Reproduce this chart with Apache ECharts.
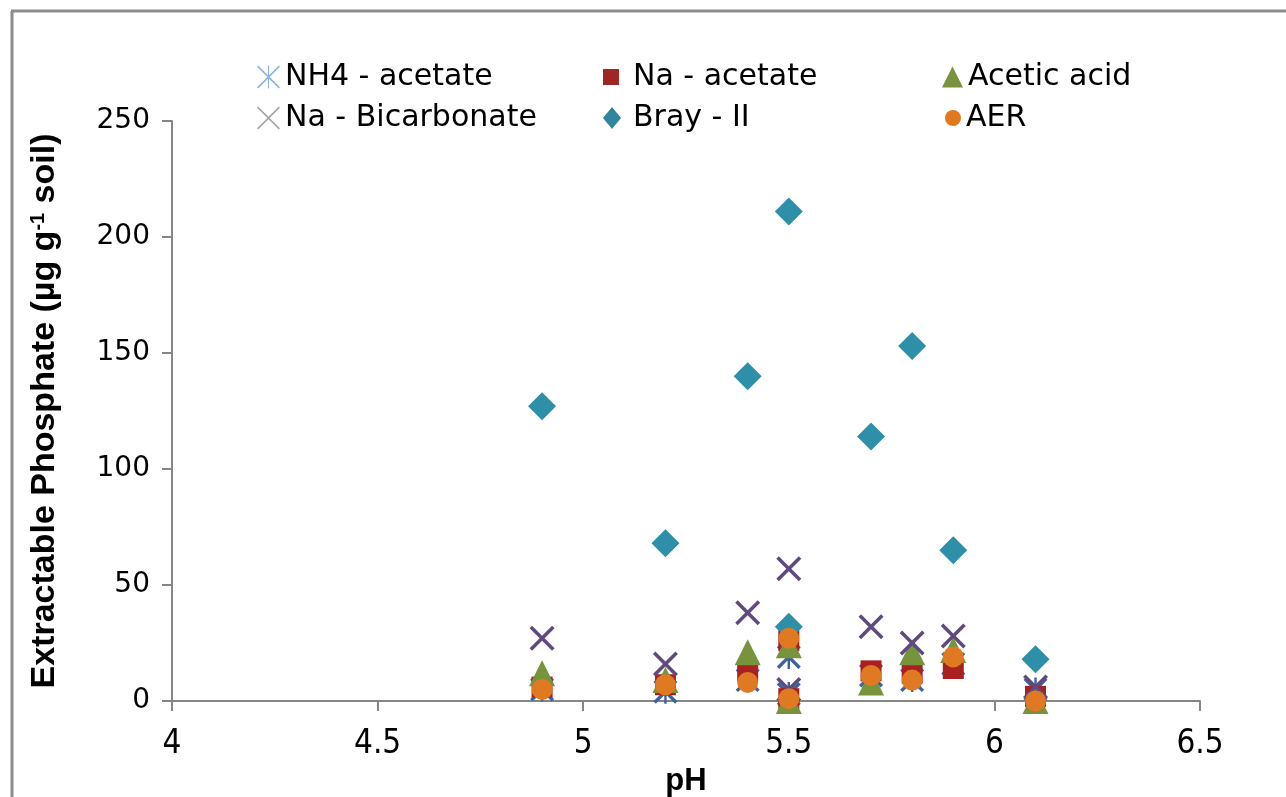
<!DOCTYPE html>
<html>
<head>
<meta charset="utf-8">
<script src="https://cdn.jsdelivr.net/npm/echarts@6/dist/echarts.min.js"></script>
<style>
html, body { margin: 0; padding: 0; background: #fff; }
#chart { width: 1286px; height: 797px; }
</style>
</head>
<body>
<div id="chart"></div>
<script>
// pH of each soil sample (two samples share pH 5.5)
var phValues = [4.9, 5.2, 5.4, 5.5, 5.5, 5.7, 5.8, 5.9, 6.1];

// extractable phosphate, µg g-1 soil, one array per extractant
var nh4Acetate   = [5, 4, 9, 19, 3, 11, 9, 16, 5];
var naAcetate    = [6, 7, 13, 26, 1, 13, 12, 14, 2];
var aceticAcid   = [12, 9, 21, 24, 0, 8, 21, 22, 0];
var naBicarb     = [27, 16, 38, 57, 5, 32, 25, 28, 6];
var bray2        = [127, 68, 140, 211, 32, 114, 153, 65, 18];
var aer          = [5, 7, 8, 27, 1, 11, 9, 19, 0];

var seriesNames = ['NH4 - acetate', 'Na - acetate', 'Acetic acid', 'Na - Bicarbonate', 'Bray - II', 'AER'];
var yTicks = [0, 50, 100, 150, 200, 250];
var xTicks = [4, 4.5, 5, 5.5, 6, 6.5];

// marker shapes (filled outlines so they look like stroked glyphs)
var crossPath = 'path://M0,2L2,0L10,8L18,0L20,2L12,10L20,18L18,20L10,12L2,20L0,18L8,10Z';
var starPath = 'path://M0,2L2,0L10,8L18,0L20,2L12,10L20,18L18,20L10,12L2,20L0,18L8,10Z M9,0L11,0L11,20L9,20Z';
var thinCross = 'path://M0,1L1,0L10,9L19,0L20,1L11,10L20,19L19,20L10,11L1,20L0,19L9,10Z';
var thinStar = 'path://M0,1L1,0L10,9L19,0L20,1L11,10L20,19L19,20L10,11L1,20L0,19L9,10Z M9.5,0L10.5,0L10.5,20L9.5,20Z';

function pairs(ys) {
  return phValues.map(function (x, i) { return [x, ys[i]]; });
}

var chart = echarts.init(document.getElementById('chart'));

function legendAt(name, left, top, w, h, icon, color, pad) {
  return {
    data: [{ name: name, icon: icon, itemStyle: { color: color, opacity: 1 } }],
    left: left, top: top,
    itemWidth: w, itemHeight: h,
    selectedMode: false,
    textStyle: { fontFamily: 'DejaVu Sans', fontSize: 30, color: '#000', lineHeight: 32, padding: [0, 0, 0, pad] }
  };
}

var option = {
  backgroundColor: '#fff',
  animation: false,
  graphic: [
    { type: 'line', shape: { x1: 12, y1: 11, x2: 12, y2: 797 }, style: { stroke: '#8c8c8c', lineWidth: 3 } },
    { type: 'line', shape: { x1: 11, y1: 11, x2: 1286, y2: 11 }, style: { stroke: '#8c8c8c', lineWidth: 3 } }
  ],
  legend: [
    legendAt(seriesNames[0], 252, 56, 23, 25, thinStar, '#8eb4e3', 0),
    legendAt(seriesNames[1], 598, 56, 16, 16, 'rect', '#a02525', 9),
    legendAt(seriesNames[2], 937, 56, 21, 21, 'triangle', '#77933c', 0),
    legendAt(seriesNames[3], 252, 97, 23, 25, thinCross, '#a6a6a6', 0),
    legendAt(seriesNames[4], 598, 97, 18, 22, 'diamond', '#31859c', 7),
    legendAt(seriesNames[5], 940, 97, 16, 16, 'circle', '#e0781f', 0)
  ],
  grid: { left: 172, right: 86, top: 121, bottom: 96, outerBoundsMode: 'none' },
  xAxis: {
    type: 'value', min: 4, max: 6.5, interval: 0.5,
    name: 'pH', nameLocation: 'middle', nameGap: 49,
    nameTextStyle: { fontFamily: 'Liberation Sans', fontWeight: 'bold', fontSize: 31, color: '#000' },
    axisLine: { lineStyle: { color: '#868686', width: 2 } },
    axisTick: { show: true, length: 10, lineStyle: { color: '#868686', width: 2 } },
    axisLabel: {
      fontFamily: 'DejaVu Sans Condensed', fontSize: 33, color: '#000', margin: 27,
      formatter: function (v) { return xTicks.indexOf(v) >= 0 ? String(v) : ''; }
    },
    splitLine: { show: false }
  },
  yAxis: {
    type: 'value', min: 0, max: 250, interval: 50,
    name: 'Extractable Phosphate (µg g{sup|-1} soil)', nameLocation: 'middle', nameGap: 110, nameRotate: 90,
    nameTextStyle: {
      fontFamily: 'Liberation Sans', fontWeight: 'bold', fontSize: 34, color: '#000',
      rich: { sup: { fontFamily: 'Liberation Sans', fontWeight: 'bold', fontSize: 20, verticalAlign: 'top', padding: [0, 0, 14, 0] } }
    },
    axisLine: { show: true, lineStyle: { color: '#868686', width: 2 } },
    axisTick: { show: true, length: 10, lineStyle: { color: '#868686', width: 2 } },
    axisLabel: {
      fontFamily: 'DejaVu Sans', fontSize: 28, color: '#000', margin: 22,
      formatter: function (v) { return yTicks.indexOf(v) >= 0 ? String(v) : ''; }
    },
    splitLine: { show: false }
  },
  series: [
    { name: seriesNames[0], type: 'scatter', clip: false, symbol: starPath, symbolSize: 24,
      itemStyle: { color: '#3d62a0', opacity: 1 }, data: pairs(nh4Acetate) },
    { name: seriesNames[1], type: 'scatter', clip: false, symbol: 'rect', symbolSize: 21,
      itemStyle: { color: '#a82020', opacity: 1 }, data: pairs(naAcetate) },
    { name: seriesNames[2], type: 'scatter', clip: false, symbol: 'triangle', symbolSize: 26,
      itemStyle: { color: '#77933c', opacity: 1 }, data: pairs(aceticAcid) },
    { name: seriesNames[3], type: 'scatter', clip: false, symbol: crossPath, symbolSize: 25,
      itemStyle: { color: '#5f4a80', opacity: 1 }, data: pairs(naBicarb) },
    { name: seriesNames[4], type: 'scatter', clip: false, symbol: 'diamond', symbolSize: 28,
      itemStyle: { color: '#2e8fa8', opacity: 1 }, data: pairs(bray2) },
    { name: seriesNames[5], type: 'scatter', clip: false, symbol: 'circle', symbolSize: 21,
      itemStyle: { color: '#e07a22', opacity: 1 }, data: pairs(aer) }
  ]
};

chart.setOption(option);
</script>
</body>
</html>
